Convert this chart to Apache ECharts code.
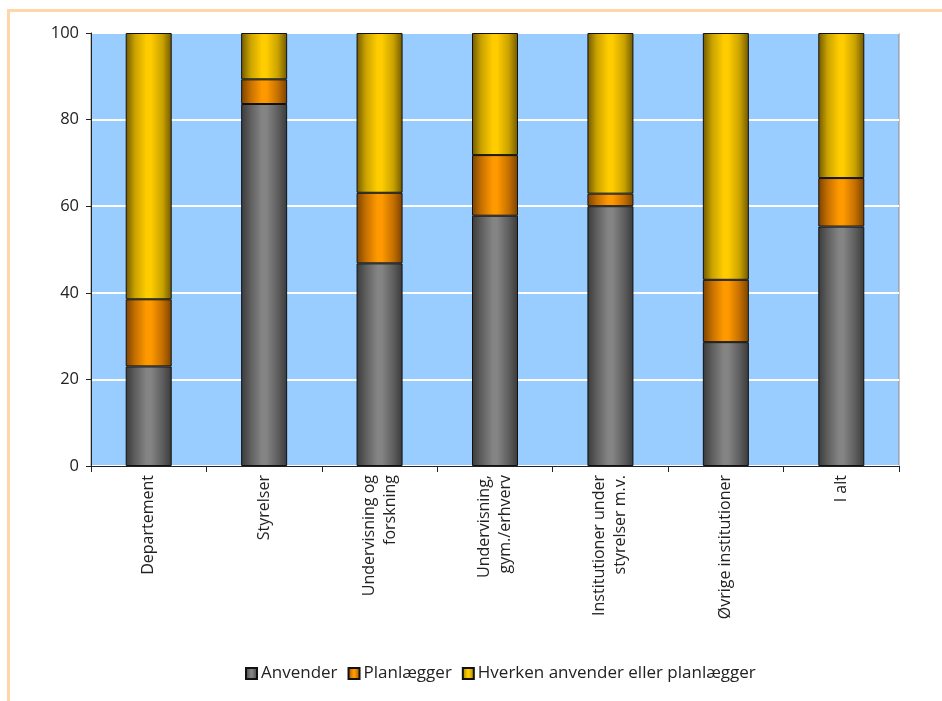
<!DOCTYPE html>
<html>
<head>
<meta charset="utf-8">
<script src="https://cdn.jsdelivr.net/npm/echarts@6/dist/echarts.min.js"></script>
<style>
  html, body { margin: 0; padding: 0; background: #fff; overflow: hidden; }
  #frame { position: absolute; left: 7px; top: 9px; width: 1000px; height: 800px;
           border-top: 3px solid #FDD7A8; border-left: 3px solid #FDD7A8; }
  #chart { position: absolute; left: 0; top: 0; width: 942px; height: 701px; }
</style>
</head>
<body>
<div id="frame"></div>
<div id="chart"></div>
<script>
// Share of institutions per group (percent)
const categories = [
  'Departement',
  'Styrelser',
  'Undervisning og\nforskning',
  'Undervisning,\ngym./erhverv',
  'Institutioner under\nstyrelser m.v.',
  'Øvrige institutioner',
  'I alt'
];
const anvender    = [23.0, 83.6, 46.8, 57.8, 60.0, 28.6, 55.3];
const planlaegger = [15.5,  5.7, 16.3, 14.0,  2.9, 14.4, 11.2];
const hverken     = [61.5, 10.7, 36.9, 28.2, 37.1, 57.0, 33.5];
const seriesNames = ['Anvender', 'Planlægger', 'Hverken anvender eller planlægger'];
const yTicks = [0, 20, 40, 60, 80, 100];

// Horizontal shading: dark edges, bright centre (cylinder look)
function shade(edge, mid, centre) {
  return {
    type: 'linear', x: 0, y: 0, x2: 1, y2: 0,
    colorStops: [
      { offset: 0, color: edge },
      { offset: 0.2, color: mid },
      { offset: 0.45, color: centre },
      { offset: 0.55, color: centre },
      { offset: 0.8, color: mid },
      { offset: 1, color: edge }
    ]
  };
}
const fills = [
  shade('#3a3a3a', '#5e5e5e', '#848484'),
  shade('#7a4200', '#c46f00', '#ff9900'),
  shade('#705800', '#c9a200', '#ffcc00')
];

const font = "'Open Sans', 'Noto Sans', sans-serif";
const chart = echarts.init(document.getElementById('chart'));
const values = [anvender, planlaegger, hverken];

chart.setOption({
  animation: false,
  textStyle: { fontFamily: font },
  grid: {
    left: 91, right: 43, top: 33, bottom: 235,
    show: true, backgroundColor: '#99CCFF', borderColor: '#8c8c8c', borderWidth: 1
  },
  legend: {
    bottom: 14, left: 240,
    itemWidth: 11, itemHeight: 11, itemGap: 10,
    icon: 'rect',
    textStyle: { fontFamily: font, fontSize: 17, color: '#222', padding: [0, 0, 0, -1] },
    data: seriesNames
  },
  xAxis: {
    type: 'category',
    data: categories,
    axisLine: { lineStyle: { color: '#222', width: 1 } },
    axisTick: { show: true, length: 6, lineStyle: { color: '#222' } },
    axisLabel: { rotate: 90, margin: 9, fontSize: 16, color: '#222', fontFamily: font, lineHeight: 21, interval: 0 }
  },
  yAxis: {
    type: 'value', min: 0, max: 100, interval: 20,
    axisLine: { show: true, lineStyle: { color: '#222' } },
    axisTick: { show: true, length: 5, lineStyle: { color: '#222' } },
    axisLabel: { fontSize: 16.5, color: '#222', margin: 12, fontFamily: font,
                 formatter: v => yTicks.includes(v) ? String(v) : '' },
    splitLine: { show: true, lineStyle: { color: '#ffffff', width: 2 } }
  },
  series: seriesNames.map((name, i) => ({
    name: name,
    type: 'bar',
    stack: 'total',
    barWidth: 46,
    data: values[i],
    itemStyle: { color: fills[i], borderColor: '#111', borderWidth: 1 }
  }))
});
</script>
</body>
</html>
